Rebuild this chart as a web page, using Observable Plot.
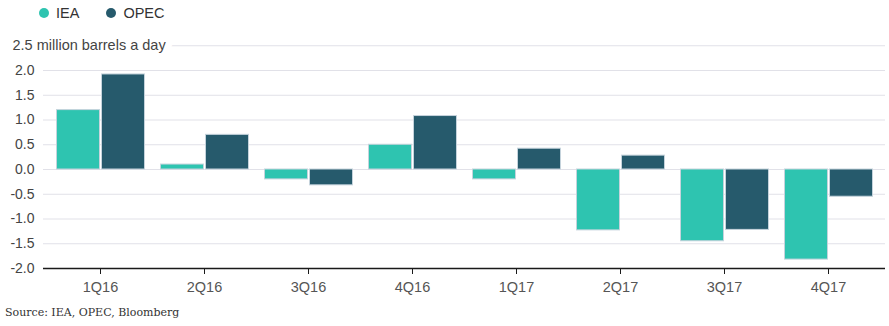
<!DOCTYPE html>
<html>
<head>
<meta charset="utf-8">
<script src="https://cdn.jsdelivr.net/npm/d3@7"></script>
<script src="https://cdn.jsdelivr.net/npm/@observablehq/plot@0.6"></script>
<style>
  body { margin: 0; background: #fff; font-family: "Liberation Sans", Arial, sans-serif; }
  #legend { height: 26px; display: flex; align-items: center; padding-left: 39px; font-size: 14.5px; color: #333; }
  .item { display: flex; align-items: center; margin-right: 27px; }
  .sw { width: 10px; height: 10px; border-radius: 50%; margin-right: 7px; }
  #caption { font-family: "DejaVu Serif", "Liberation Serif", serif; font-size: 11px; color: #333; padding: 10px 0 0 5px; }
</style>
</head>
<body>
<div id="legend"></div>
<div id="chart"></div>
<div id="caption">Source: IEA, OPEC, Bloomberg</div>
<script>
const quarters = ["1Q16", "2Q16", "3Q16", "4Q16", "1Q17", "2Q17", "3Q17", "4Q17"];
const series = ["IEA", "OPEC"];
const iea = [1.2, 0.1, -0.2, 0.5, -0.2, -1.23, -1.45, -1.82];
const opec = [1.92, 0.7, -0.32, 1.08, 0.42, 0.28, -1.22, -0.55];
const colors = ["#2ec4b0", "#265a6c"];
const yTicks = [-2, -1.5, -1, -0.5, 0, 0.5, 1, 1.5, 2];
const gridTicks = [-1.5, -1, -0.5, 0, 0.5, 1, 1.5, 2, 2.5];
const unitLabel = "2.5 million barrels a day";

const ieaData = quarters.map((q, i) => ({quarter: q, series: "IEA", value: iea[i]}));
const opecData = quarters.map((q, i) => ({quarter: q, series: "OPEC", value: opec[i]}));

const legend = document.getElementById("legend");
series.forEach((s, i) => {
  const it = document.createElement("div");
  it.className = "item";
  it.innerHTML = `<span class="sw" style="background:${colors[i]}"></span><span>${s}</span>`;
  legend.appendChild(it);
});

const barStyle = {x: "quarter", y: "value", fill: "series", stroke: "#c5d3dc", strokeWidth: 1};

const chart = Plot.plot({
  width: 889,
  height: 270,
  marginLeft: 43,
  marginRight: 4,
  marginTop: 19.25,
  marginBottom: 28,
  style: {fontFamily: "'Liberation Sans', Arial, sans-serif", color: "#444", background: "#fff"},
  x: {domain: quarters, paddingInner: 0, paddingOuter: 0.048, label: null},
  y: {domain: [-2, 2.5], label: null},
  color: {domain: series, range: colors},
  marks: [
    Plot.ruleY(gridTicks, {stroke: "#e1e1e8", strokeWidth: 1}),
    Plot.barY(ieaData, {...barStyle, insetLeft: 8.5, insetRight: 52.5}),
    Plot.barY(opecData, {...barStyle, insetLeft: 53.5, insetRight: 7.5}),
    Plot.ruleY([-2], {stroke: "#1a1a1a", strokeWidth: 1.5}),
    Plot.axisY(yTicks, {tickSize: 0, tickPadding: 9, tickFormat: d => d.toFixed(1), fontSize: 14, fill: "#444", label: null}),
    Plot.text([2.5], {y: d => d, frameAnchor: "left", textAnchor: "start", dx: -31, text: () => unitLabel, fontSize: 14.5, fill: "#444", stroke: "white", strokeWidth: 14}),
    Plot.axisX({anchor: "bottom", tickSize: 6, tickPadding: 7, fontSize: 14.5, fill: "#555", stroke: "#1a1a1a", label: null})
  ]
});
document.getElementById("chart").appendChild(chart);
</script>
</body>
</html>
